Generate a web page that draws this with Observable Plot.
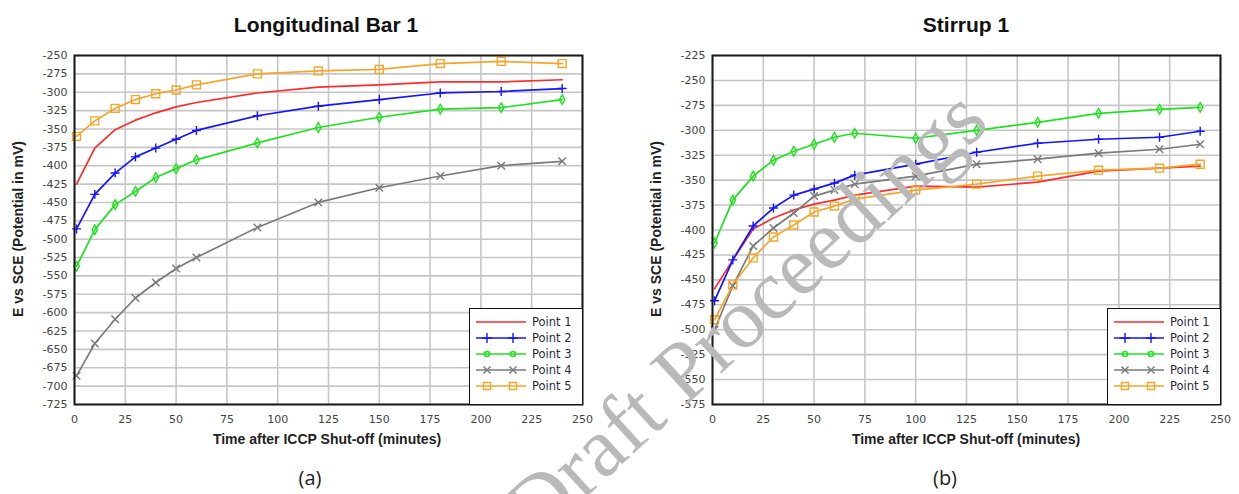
<!DOCTYPE html>
<html>
<head>
<meta charset="utf-8">
<script src="https://cdn.jsdelivr.net/npm/d3@7"></script>
<script src="https://cdn.jsdelivr.net/npm/@observablehq/plot@0.6"></script>
<style>
  body { margin: 0; background: #fff; }
  #root { position: relative; width: 1239px; height: 494px; overflow: hidden; font-family: "Liberation Sans", Arial, sans-serif; }
  .abs { position: absolute; white-space: nowrap; }
  .chart { position: absolute; top: 0; }
  .legend { position: absolute; background: #fff; border: 1.5px solid #111; box-sizing: border-box; }
  .wm { position: absolute; pointer-events: none; white-space: nowrap; line-height: 1;
        font-family: "Liberation Serif", "Times New Roman", serif; color: #b9b9b9; }
</style>
</head>
<body>
<div id="root"></div>
<script>
// ---------- data ----------
const seriesNames = ["Point 1", "Point 2", "Point 3", "Point 4", "Point 5"];
const seriesColors = ["#ff2a2a", "#1414ff", "#1ee21e", "#7a7a7a", "#f5a62a"];
const seriesSymbols = [null, "plus", "diamond", "times", "square"];

const xTicks = [0, 25, 50, 75, 100, 125, 150, 175, 200, 225, 250];

// (a) Longitudinal Bar 1
const timesA = [1, 10, 20, 30, 40, 50, 60, 90, 120, 150, 180, 210, 240];
const barP1 = [-425, -376, -351, -338, -328, -320, -314, -301, -293, -290, -286, -286, -283];
const barP2 = [-486, -439, -410, -388, -376, -364, -352, -332, -319, -310, -301, -299, -295];
const barP3 = [-537, -487, -453, -435, -416, -404, -392, -369, -348, -334, -323, -321, -310];
const barP4 = [-686, -642, -609, -580, -559, -540, -525, -484, -450, -430, -414, -400, -394];
const barP5 = [-360, -339, -322, -310, -302, -297, -290, -275, -271, -269, -261, -258, -261];
const yTicksA = d3.range(-725, -249, 25);

// (b) Stirrup 1
const timesB = [1, 10, 20, 30, 40, 50, 60, 70, 100, 130, 160, 190, 220, 240];
const stP1 = [-459, -430, -399, -388, -380, -374, -370, -365, -356, -357, -352, -341, -338, -336];
const stP2 = [-471, -430, -396, -378, -365, -359, -353, -345, -334, -322, -313, -309, -307, -301];
const stP3 = [-413, -370, -346, -330, -321, -314, -307, -303, -308, -300, -292, -283, -279, -277];
const stP4 = [-500, -456, -416, -398, -383, -366, -360, -354, -346, -334, -329, -323, -319, -314];
const stP5 = [-490, -455, -428, -407, -395, -382, -376, -369, -360, -354, -346, -340, -338, -334];
const yTicksB = d3.range(-575, -224, 25);

// ---------- drawing ----------
const root = document.getElementById("root");

function makeChart(times, series, yTicks) {
  const data = series.flatMap((vals, i) => vals.map((v, j) => ({t: times[j], v, s: seriesNames[i]})));
  const gridStyle = {stroke: "#c6c6c6", strokeOpacity: 1, strokeWidth: 1.6};
  const dotMarks = seriesNames.map((name, i) => {
    if (!seriesSymbols[i]) return null;
    const sizeR = {plus: 3.0, diamond: 2.9, times: 3.5, square: 4.5}[seriesSymbols[i]];
    return Plot.dot(data.filter(d => d.s === name), {
      x: "t", y: "v", symbol: () => seriesSymbols[i], r: sizeR,
      stroke: seriesColors[i], fill: "none", strokeWidth: 1.4
    });
  }).filter(Boolean);
  return Plot.plot({
    width: 620, height: 460,
    marginTop: 55, marginLeft: 74, marginRight: 38, marginBottom: 56,
    x: {domain: [0, 250]},
    y: {domain: [yTicks[0], yTicks[yTicks.length - 1]]},
    symbol: {type: "identity"},
    style: {fontFamily: "DejaVu Sans, sans-serif", fontSize: "11px", color: "#444", background: "transparent"},
    marks: [
      Plot.gridX(xTicks, gridStyle),
      Plot.gridY(yTicks, gridStyle),
      Plot.axisX(xTicks, {tickSize: 0, tickPadding: 11, label: null, tickFormat: d => String(d)}),
      Plot.axisY(yTicks, {tickSize: 0, tickPadding: 7, label: null, tickFormat: d => String(d)}),
      ...seriesNames.map((name, i) => Plot.line(data.filter(d => d.s === name), {
        x: "t", y: "v", stroke: seriesColors[i], strokeWidth: 1.7
      })),
      ...dotMarks,
      Plot.frame({stroke: "#1a1a1a", strokeWidth: 2})
    ]
  });
}

function addText(text, x, y, style, rotate) {
  const el = document.createElement("div");
  el.className = "abs";
  el.textContent = text;
  el.style.left = x + "px";
  el.style.top = y + "px";
  el.style.transform = "translate(-50%,-50%)" + (rotate ? ` rotate(${rotate}deg)` : "");
  Object.assign(el.style, style);
  root.appendChild(el);
  return el;
}

function addLegend(left, top) {
  const box = document.createElement("div");
  box.className = "legend";
  box.style.left = left + "px";
  box.style.top = top + "px";
  box.style.width = "114px";
  box.style.height = "97px";
  root.appendChild(box);
  const svg = d3.select(box).append("svg").attr("width", 112).attr("height", 94)
    .style("position", "absolute").style("left", "0px").style("top", "0px");
  const legendSymbols = [null, d3.symbolPlus, d3.symbolCircle, d3.symbolTimes, d3.symbolSquare];
  const legendSizes = [0, 36, 20, 34, 50];
  seriesNames.forEach((name, i) => {
    const yy = 13 + i * 16;
    const g = svg.append("g");
    g.append("line").attr("x1", 6).attr("x2", 56).attr("y1", yy).attr("y2", yy)
      .attr("stroke", seriesColors[i]).attr("stroke-width", 1.6);
    if (legendSymbols[i]) {
      [17, 43].forEach(cx => {
        g.append("path").attr("d", d3.symbol(legendSymbols[i], legendSizes[i])())
          .attr("transform", `translate(${cx},${yy})`)
          .attr("fill", "none").attr("stroke", seriesColors[i]).attr("stroke-width", 1.4);
      });
    }
    g.append("text").attr("x", 62).attr("y", yy).attr("dy", "0.35em")
      .attr("font-family", "DejaVu Sans, sans-serif").attr("font-size", 11.5)
      .attr("fill", "#2a2a3a").text(name);
  });
}

// left chart
const chartA = makeChart(timesA, [barP1, barP2, barP3, barP4, barP5], yTicksA);
chartA.classList.add("chart");
chartA.style.left = "0px";
root.appendChild(chartA);

// right chart
const chartB = makeChart(timesB, [stP1, stP2, stP3, stP4, stP5], yTicksB);
chartB.classList.add("chart");
chartB.style.left = "638px";
root.appendChild(chartB);

const titleStyle = {fontSize: "21px", fontWeight: "bold", color: "#111"};
const axisStyle = {fontSize: "14px", fontWeight: "bold", color: "#222"};
const capStyle = {fontSize: "20px", color: "#222", fontFamily: "'Open Sans', sans-serif"};

addText("Longitudinal Bar 1", 326, 25, titleStyle);
addText("Stirrup 1", 966, 25, titleStyle);
addText("Time after ICCP  Shut-off (minutes)", 327, 439, axisStyle);
addText("Time after ICCP  Shut-off (minutes)", 966, 439, axisStyle);
addText("E vs SCE (Potential in mV)", 18, 229, axisStyle, -90);
addText("E vs SCE (Potential in mV)", 656, 229, axisStyle, -90);
addText("(a)", 310, 477, capStyle);
addText("(b)", 945, 477, capStyle);

addLegend(469, 308);
addLegend(1107, 308);

// watermark
const wm = document.createElement("div");
wm.className = "wm";
wm.textContent = "Draft Proceedings";
wm.style.fontSize = "85px";
wm.style.left = "745px";
wm.style.top = "313px";
wm.style.transform = "translate(-50%,-50%) rotate(-42.5deg)";
root.appendChild(wm);
</script>
</body>
</html>
